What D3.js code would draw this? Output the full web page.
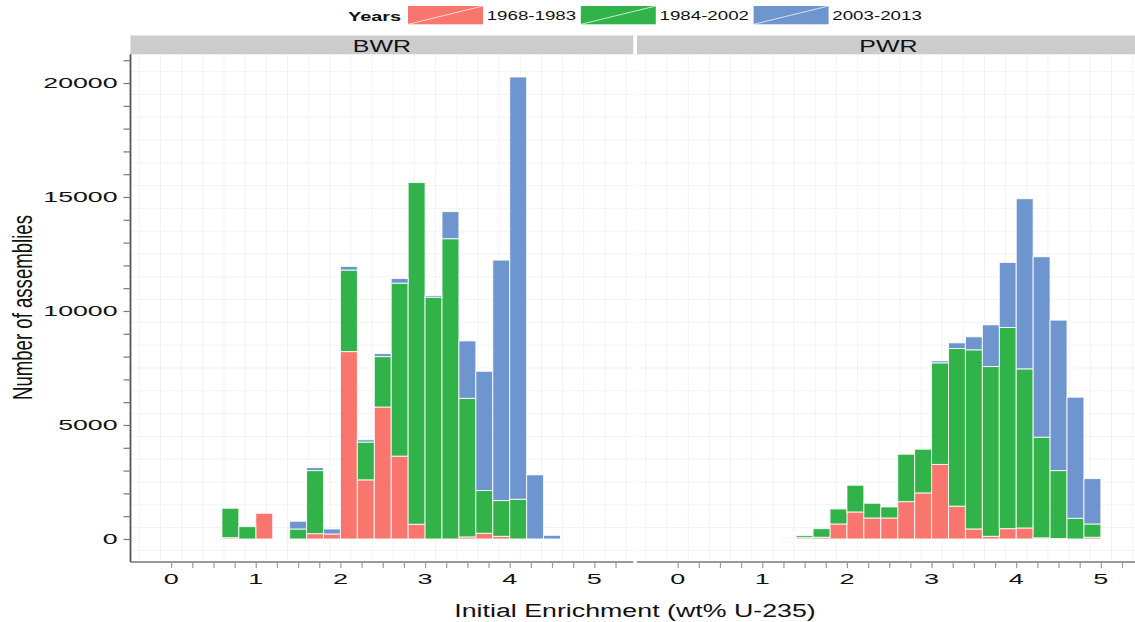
<!DOCTYPE html>
<html><head><meta charset="utf-8">
<script src="https://cdn.jsdelivr.net/npm/d3@7/dist/d3.min.js"></script>
<style>body{margin:0;background:#fff}svg{display:block}text{font-family:"Liberation Sans",Arial,sans-serif}</style>
</head><body><svg id="c" width="1135" height="622"></svg>
<script>
// ---- data ----
const seriesNames = ["1968-1983", "1984-2002", "2003-2013"];
const seriesColors = ["#F8766D", "#31B34A", "#6F95CE"];
const panels = ["BWR", "PWR"];
const binWidth = 0.2;

const bwrBins  = [0.6,0.8,1.0,1.2,1.4,1.6,1.8,2.0,2.2,2.4,2.6,2.8,3.0,3.2,3.4,3.6,3.8,4.0,4.2,4.4];
const bwr1968  = [57,0,1128,0,0,233,220,8220,2593,5788,3634,645,0,0,90,250,117,0,0,0];
const bwr1984  = [1291,541,0,0,439,2767,0,3575,1657,2212,7589,14989,10608,13172,6078,1875,1568,1744,0,0];
const bwr2003  = [0,0,0,0,338,130,219,161,102,132,205,0,73,1187,2521,5230,10549,18520,2813,161];

const pwrBins  = [1.2,1.4,1.6,1.8,2.0,2.2,2.4,2.6,2.8,3.0,3.2,3.4,3.6,3.8,4.0,4.2,4.4,4.6,4.8];
const pwr1968  = [20,57,75,658,1185,922,922,1638,2020,3270,1440,440,117,453,483,50,20,0,75];
const pwr1984  = [0,88,377,659,1172,645,483,2080,1918,4456,6914,7857,7447,8823,6980,4414,2980,908,583];
const pwr2003  = [0,0,0,0,0,0,0,0,0,88,250,571,1830,2854,7462,7915,6600,5312,1990];

const xTickValues = d3.range(0, 5.26, 0.25);
const xLabelValues = [0,1,2,3,4,5];
const yTickValues = d3.range(0, 21001, 1000);
const yLabelValues = [0,5000,10000,15000,20000];

// ---- layout ----
const svg = d3.select("#c");
const panelW = 502.8, pTop = 54.3, pBottom = 562;
const panelX = {BWR:130.5, PWR:637};
const x = d3.scaleLinear().domain([-0.48, 5.46]).range([0, panelW]);
const y = d3.scaleLinear().domain([-1010, 21260]).range([pBottom, pTop]);

function sText(parent, tx, ty, sx, str, size, anchor, weight){
  return parent.append("text")
    .attr("transform", `translate(${tx},${ty}) scale(${sx},1)`)
    .attr("text-anchor", anchor || "start")
    .attr("font-size", size)
    .attr("font-weight", weight || "normal")
    .attr("fill", "#111")
    .text(str);
}

const data = {
  BWR: bwrBins.map((b,i)=>({bin:b, s0:bwr1968[i], s1:bwr1984[i], s2:bwr2003[i]})),
  PWR: pwrBins.map((b,i)=>({bin:b, s0:pwr1968[i], s1:pwr1984[i], s2:pwr2003[i]}))
};
const stack = d3.stack().keys(["s0","s1","s2"]);

panels.forEach(p=>{
  const g = svg.append("g").attr("transform", `translate(${panelX[p]},0)`);
  // grid
  const grid = g.append("g").attr("stroke", "#F3F3F3").attr("stroke-width", 1);
  d3.range(-0.375, 5.46, 0.25).forEach(v=>{
    grid.append("line").attr("x1", x(v)).attr("x2", x(v)).attr("y1", pTop).attr("y2", pBottom);
  });
  d3.range(-500, 21260, 1000).forEach(v=>{
    grid.append("line").attr("x1", 0).attr("x2", panelW).attr("y1", y(v)).attr("y2", y(v));
  });
  // strip
  g.append("rect").attr("x", 0).attr("y", 35.5).attr("width", panelW).attr("height", pTop-35.5).attr("fill", "#CCCCCC");
  sText(g, panelW/2, 51.6, 1.47, p, 17, "middle");
  // bars
  const layers = stack(data[p]);
  layers.forEach((layer, li)=>{
    g.append("g").selectAll("rect").data(layer.filter(d=>d[1]-d[0] > 0)).join("rect")
      .attr("x", d=>x(d.data.bin))
      .attr("width", d=>x(d.data.bin+binWidth)-x(d.data.bin))
      .attr("y", d=>y(d[1]))
      .attr("height", d=>y(d[0])-y(d[1]))
      .attr("fill", seriesColors[li])
      .attr("stroke", "#ffffff").attr("stroke-opacity", 0.85).attr("stroke-width", 1);
  });
  // x axis
  const xa = g.append("g").attr("transform", `translate(0,${pBottom})`)
    .call(d3.axisBottom(x).tickValues(xTickValues).tickSize(6).tickFormat(""));
  xa.select(".domain").attr("d", `M0,0H${panelW}`).attr("stroke", "#9A9A9A").attr("stroke-width", 2);
  xa.selectAll(".tick line").attr("stroke", "#9A9A9A").attr("stroke-width", 1.2);
  xLabelValues.forEach(v=> sText(g, x(v), 584, 1.8, d3.format("d")(v), 15, "middle"));
});

// y axis (left panel only)
const ya = svg.append("g").attr("transform", `translate(${panelX.BWR},0)`)
  .call(d3.axisLeft(y).tickValues(yTickValues).tickSize(7).tickFormat(""));
ya.select(".domain").attr("d", `M0,${pTop}V${pBottom}`).attr("stroke", "#555").attr("stroke-width", 1.8);
ya.selectAll(".tick line").attr("stroke", "#777").attr("stroke-width", 1.2);
yLabelValues.forEach(v=> sText(svg, 117.5, y(v)+5.4, 1.78, d3.format("d")(v), 15, "end"));

// axis titles
sText(svg, 635, 616.5, 1.44, "Initial Enrichment (wt% U-235)", 18.6, "middle");
svg.append("text")
  .attr("transform", "translate(31.5,307.5) scale(1.5,1) rotate(-90)")
  .attr("text-anchor", "middle").attr("font-size", 18.6).attr("fill", "#111")
  .text("Number of assemblies");

// legend
const lg = svg.append("g");
sText(lg, 348, 21, 1.62, "Years", 12.3, "start", "bold");
seriesNames.forEach((n,i)=>{
  const kx = 408 + i*172.8;
  lg.append("rect").attr("x", kx).attr("y", 6).attr("width", 75).attr("height", 18.3).attr("fill", seriesColors[i]);
  lg.append("line").attr("x1", kx).attr("y1", 24.3).attr("x2", kx+75).attr("y2", 6)
    .attr("stroke", "#fff").attr("stroke-width", 0.8).attr("stroke-opacity", 0.9);
  sText(lg, kx+78.7, 20, 1.44, n, 13, "start");
});
</script></body></html>
